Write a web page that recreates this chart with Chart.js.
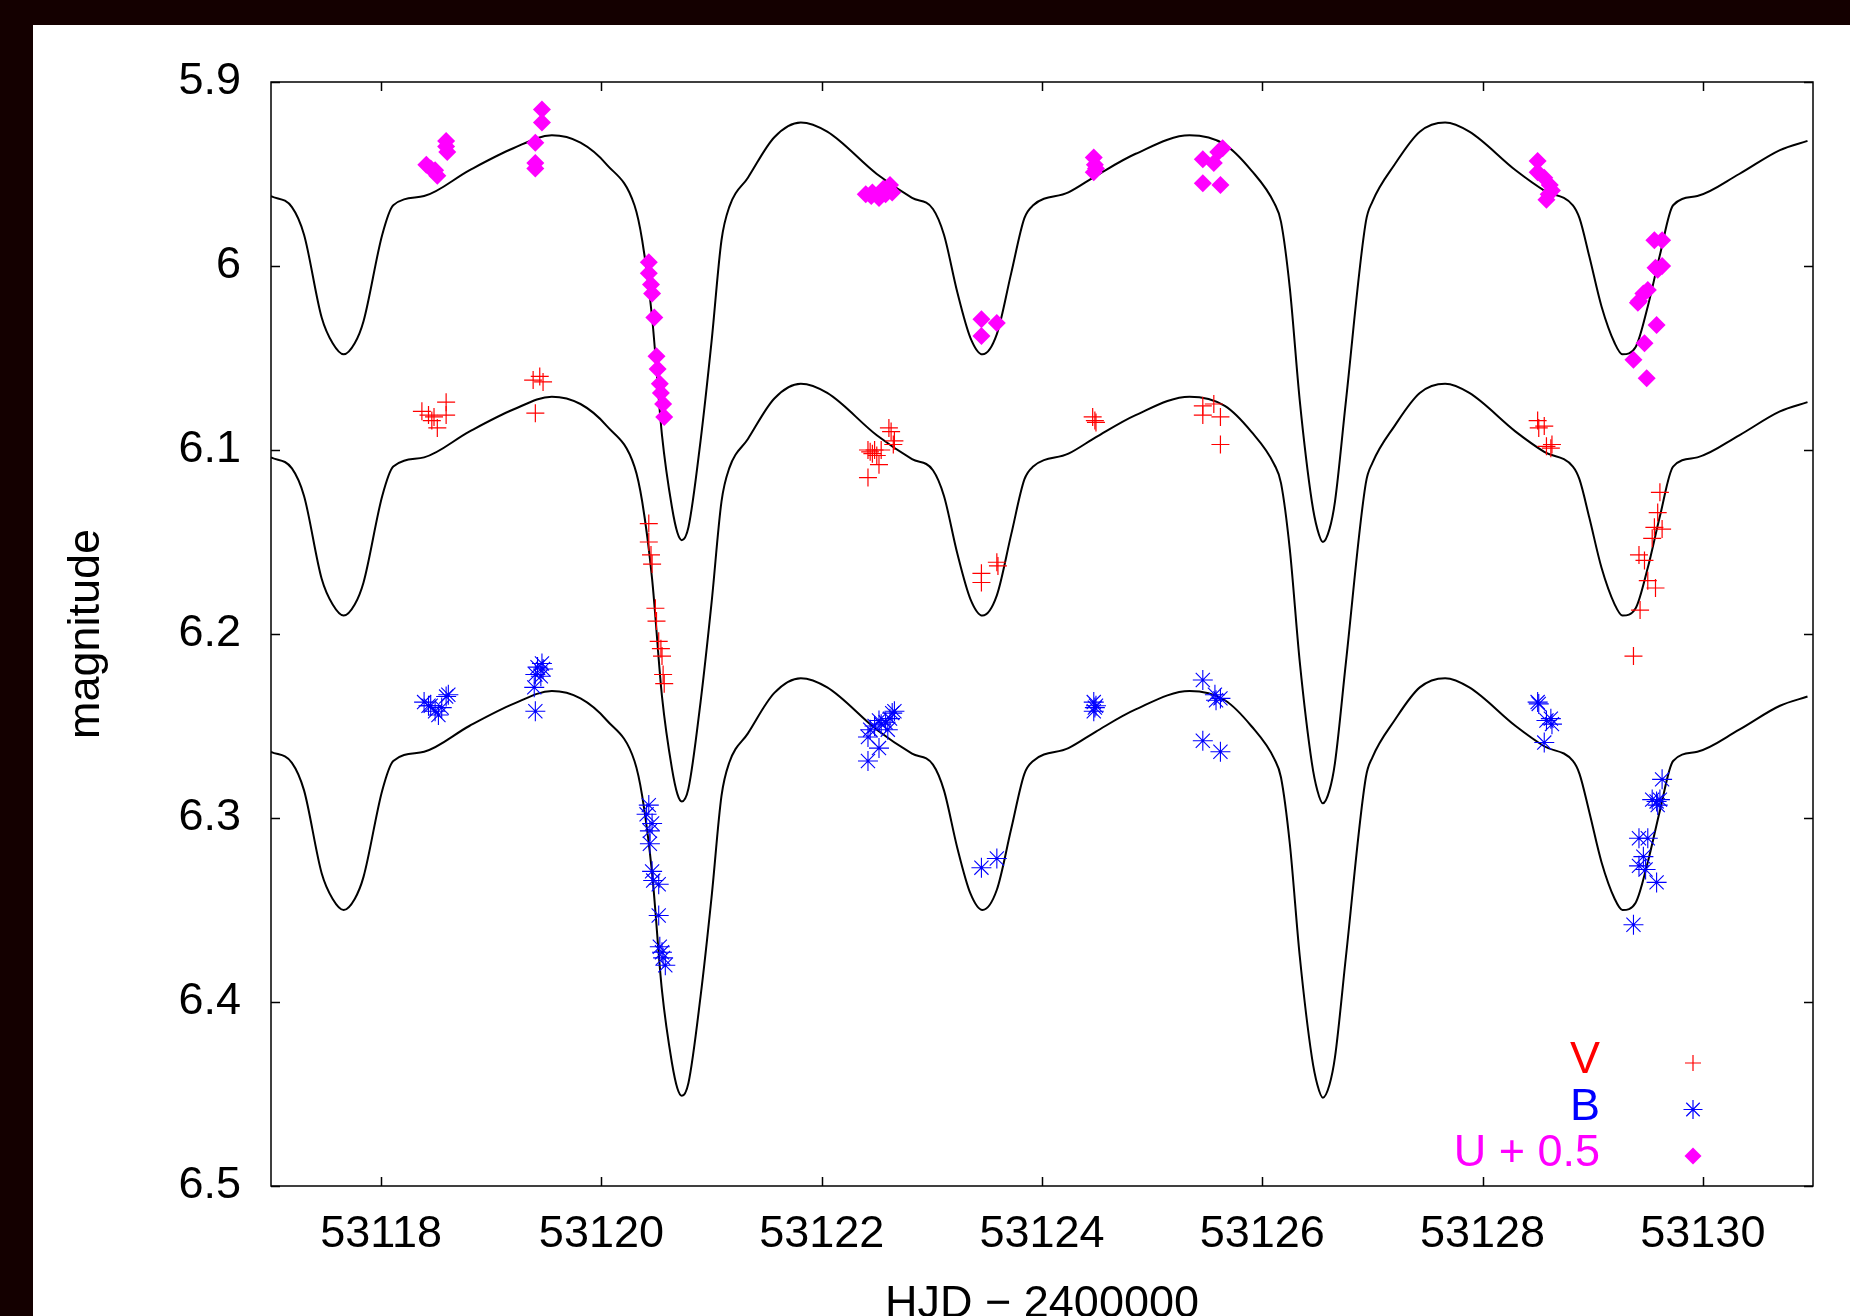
<!DOCTYPE html>
<html lang="en">
<head>
<meta charset="utf-8">
<title>Curva de luz UBV</title>
<script src="https://cdn.jsdelivr.net/npm/chart.js@4.4.1/dist/chart.umd.min.js"></script>
<style>
    html, body { margin: 0; padding: 0; background: #140000; overflow: hidden; }
    #panel { position: absolute; left: 33px; top: 25px; width: 1817px; height: 1291px; background: #fff; }
    canvas { display: block; }
</style>
</head>
<body>
<div id="panel"><canvas id="grafico" width="1817" height="1291"></canvas></div>
<script>
// --- 1. DATOS ---

// Curva modelo, misma malla HJD para las tres bandas
const hjdModelo = [
    53117.00, 53117.19, 53117.30, 53117.46, 53117.56, 53117.66, 53117.76, 53117.84, 53118.01, 53118.11,
    53118.39, 53118.80, 53119.20, 53119.55, 53119.81, 53120.05, 53120.30, 53120.37, 53120.46, 53120.55,
    53120.64, 53120.69, 53120.73, 53120.79, 53120.90, 53121.00, 53121.09, 53121.16, 53121.33, 53121.57,
    53121.81, 53122.05, 53122.50, 53122.82, 53123.01, 53123.11, 53123.23, 53123.35, 53123.46, 53123.59,
    53123.72, 53123.84, 53123.92, 53124.24, 53124.49, 53124.85, 53125.34, 53125.66, 53125.90, 53126.11,
    53126.17, 53126.25, 53126.34, 53126.45, 53126.50, 53126.55, 53126.61, 53126.66, 53126.76, 53126.94,
    53127.00, 53127.20, 53127.43, 53127.66, 53127.88, 53128.30, 53128.56, 53128.82, 53128.88, 53128.97,
    53129.08, 53129.20, 53129.27, 53129.39, 53129.50, 53129.61, 53129.73, 53129.95, 53130.33, 53130.70,
    53130.95
];
const modeloU = [
    5.962, 5.968, 5.983, 6.028, 6.042, 6.048, 6.042, 6.030, 5.983, 5.967,
    5.962, 5.948, 5.936, 5.929, 5.933, 5.945, 5.967, 5.986, 6.028, 6.092,
    6.131, 6.145, 6.149, 6.142, 6.095, 6.041, 5.986, 5.968, 5.952, 5.930,
    5.922, 5.927, 5.950, 5.963, 5.969, 5.983, 6.014, 6.039, 6.048, 6.037,
    6.004, 5.974, 5.967, 5.960, 5.951, 5.939, 5.929, 5.934, 5.948, 5.966,
    5.976, 6.012, 6.073, 6.128, 6.143, 6.150, 6.143, 6.128, 6.073, 5.976,
    5.965, 5.945, 5.927, 5.922, 5.927, 5.948, 5.959, 5.967, 5.974, 5.995,
    6.022, 6.042, 6.048, 6.044, 6.022, 5.994, 5.967, 5.962, 5.950, 5.937,
    5.932
];
const modeloV = [
    6.104, 6.110, 6.125, 6.170, 6.184, 6.190, 6.184, 6.172, 6.125, 6.109,
    6.104, 6.090, 6.078, 6.071, 6.075, 6.087, 6.109, 6.128, 6.170, 6.234,
    6.273, 6.287, 6.291, 6.284, 6.237, 6.183, 6.128, 6.110, 6.094, 6.072,
    6.064, 6.069, 6.092, 6.105, 6.111, 6.125, 6.156, 6.181, 6.190, 6.179,
    6.146, 6.116, 6.109, 6.102, 6.093, 6.081, 6.071, 6.076, 6.090, 6.108,
    6.118, 6.154, 6.215, 6.270, 6.285, 6.292, 6.285, 6.270, 6.215, 6.118,
    6.107, 6.087, 6.069, 6.064, 6.069, 6.090, 6.101, 6.109, 6.116, 6.137,
    6.164, 6.184, 6.190, 6.186, 6.164, 6.136, 6.109, 6.104, 6.092, 6.079,
    6.074
];
const modeloB = [
    6.264, 6.270, 6.285, 6.330, 6.344, 6.350, 6.344, 6.332, 6.285, 6.269,
    6.264, 6.250, 6.238, 6.231, 6.235, 6.247, 6.269, 6.288, 6.330, 6.394,
    6.433, 6.447, 6.451, 6.444, 6.397, 6.343, 6.288, 6.270, 6.254, 6.232,
    6.224, 6.229, 6.252, 6.265, 6.271, 6.285, 6.316, 6.341, 6.350, 6.339,
    6.306, 6.276, 6.269, 6.262, 6.253, 6.241, 6.231, 6.236, 6.250, 6.268,
    6.278, 6.314, 6.375, 6.430, 6.445, 6.452, 6.445, 6.430, 6.375, 6.278,
    6.267, 6.247, 6.229, 6.224, 6.229, 6.250, 6.261, 6.269, 6.276, 6.297,
    6.324, 6.344, 6.350, 6.346, 6.324, 6.296, 6.269, 6.264, 6.252, 6.239,
    6.234
];

// Observaciones U + 0.5 (rombos)
const hjdU = [
    53118.41, 53118.45, 53118.49, 53118.51, 53118.59, 53118.59, 53118.60,
    53119.46, 53119.46, 53119.40, 53119.40, 53119.40,
    53120.43, 53120.43, 53120.45, 53120.46, 53120.48, 53120.50, 53120.51, 53120.53, 53120.54, 53120.56, 53120.57,
    53122.40, 53122.45, 53122.46, 53122.52, 53122.56, 53122.58, 53122.62, 53122.64,
    53123.45, 53123.59, 53123.45,
    53124.47, 53124.48, 53124.49, 53124.47,
    53125.46, 53125.56, 53125.60, 53125.64, 53125.46, 53125.62,
    53128.50, 53128.50, 53128.56, 53128.61, 53128.63, 53128.58, 53128.60,
    53129.56, 53129.63, 53129.57, 53129.63, 53129.59, 53129.50, 53129.46, 53129.42, 53129.41, 53129.58, 53129.47, 53129.37, 53129.49
];
const magU = [
    5.945, 5.947, 5.948, 5.951, 5.932, 5.935, 5.938,
    5.915, 5.922, 5.933, 5.944, 5.947,
    5.998, 6.004, 6.010, 6.015, 6.028, 6.049, 6.056, 6.064, 6.069, 6.075, 6.082,
    5.961, 5.962, 5.960, 5.963, 5.958, 5.961, 5.956, 5.960,
    6.029, 6.031, 6.038,
    5.941, 5.945, 5.947, 5.949,
    5.942, 5.944, 5.938, 5.936, 5.955, 5.956,
    5.943, 5.949, 5.952, 5.956, 5.959, 5.964, 5.961,
    5.986, 5.986, 6.001, 6.000, 6.002, 6.013, 6.015, 6.019, 6.020, 6.032, 6.042, 6.051, 6.061
];

// Observaciones V (cruces)
const hjdV = [
    53118.37, 53118.43, 53118.46, 53118.48, 53118.51, 53118.59, 53118.59,
    53119.38, 53119.44, 53119.47, 53119.40,
    53120.43, 53120.43, 53120.45, 53120.46, 53120.49, 53120.50, 53120.52, 53120.54, 53120.55, 53120.56, 53120.57,
    53122.42, 53122.44, 53122.46, 53122.48, 53122.50, 53122.52, 53122.54, 53122.61, 53122.63, 53122.66, 53122.65, 53122.42,
    53123.45, 53123.45, 53123.59, 53123.60,
    53124.46, 53124.48, 53124.49,
    53125.46, 53125.46, 53125.56, 53125.62, 53125.62,
    53128.50, 53128.51, 53128.56, 53128.58, 53128.62, 53128.63,
    53129.61, 53129.59, 53129.56, 53129.63, 53129.54, 53129.42, 53129.47, 53129.50, 53129.57, 53129.43, 53129.37
];
const magV = [
    6.079, 6.081, 6.084, 6.082, 6.088, 6.081, 6.074,
    6.062, 6.060, 6.063, 6.080,
    6.140, 6.150, 6.157, 6.162, 6.186, 6.193, 6.204, 6.208, 6.212, 6.222, 6.227,
    6.100, 6.101, 6.102, 6.100, 6.103, 6.108, 6.100, 6.088, 6.090, 6.095, 6.097, 6.115,
    6.167, 6.172, 6.161, 6.163,
    6.082, 6.084, 6.085,
    6.076, 6.081, 6.075, 6.082, 6.097,
    6.084, 6.088, 6.087, 6.098, 6.099, 6.097,
    6.123, 6.134, 6.142, 6.143, 6.148, 6.157, 6.160, 6.171, 6.175, 6.187, 6.212
];

// Observaciones B (asteriscos)
const hjdB = [
    53118.39, 53118.43, 53118.45, 53118.49, 53118.52, 53118.55, 53118.59, 53118.61,
    53119.40, 53119.42, 53119.46, 53119.45, 53119.39, 53119.40, 53119.47,
    53120.43, 53120.41, 53120.46, 53120.44, 53120.44, 53120.46, 53120.47, 53120.52, 53120.52, 53120.53, 53120.55, 53120.56, 53120.58,
    53122.42, 53122.42, 53122.44, 53122.48, 53122.52, 53122.54, 53122.58, 53122.62, 53122.64, 53122.66, 53122.52, 53122.60,
    53123.45, 53123.59,
    53124.47, 53124.48, 53124.47, 53124.49,
    53125.46, 53125.57, 53125.62, 53125.46, 53125.62, 53125.58,
    53128.50, 53128.51, 53128.62, 53128.63, 53128.58, 53128.56,
    53129.63, 53129.54, 53129.58, 53129.61, 53129.59, 53129.42, 53129.50, 53129.46, 53129.42, 53129.48, 53129.58, 53129.37
];
const magB = [
    6.237, 6.239, 6.239, 6.242, 6.244, 6.240, 6.234, 6.233,
    6.222, 6.218, 6.216, 6.223, 6.229, 6.242, 6.219,
    6.293, 6.298, 6.303, 6.307, 6.314, 6.329, 6.334, 6.336, 6.353, 6.370, 6.373, 6.376, 6.380,
    6.269, 6.256, 6.252, 6.250, 6.247, 6.249, 6.248, 6.246, 6.243, 6.242, 6.262, 6.252,
    6.327, 6.322,
    6.237, 6.240, 6.242, 6.239,
    6.225, 6.233, 6.235, 6.258, 6.264, 6.236,
    6.237, 6.238, 6.246, 6.249, 6.247, 6.259,
    6.279, 6.290, 6.291, 6.290, 6.293, 6.311, 6.311, 6.321, 6.326, 6.328, 6.335, 6.358
];

// Ejes y leyenda
const xTicks = [53118, 53120, 53122, 53124, 53126, 53128, 53130];
const yTicks = [5.9, 6.0, 6.1, 6.2, 6.3, 6.4, 6.5];
const yTickLabels = ['5.9', '6', '6.1', '6.2', '6.3', '6.4', '6.5'];
const leyendaTextos = ['V', 'B', 'U + 0.5'];

// --- 2. CONFIGURACION ---

const FUENTE = '"Liberation Sans", Arial, sans-serif';
const aPuntos = (xs, ys) => xs.map((x, i) => ({ x, y: ys[i] }));

// Marco cerrado con ticks hacia adentro (estilo gnuplot)
const marco = {
    id: 'marco',
    afterDraw(chart) {
        const { ctx, chartArea: a, scales: { x, y } } = chart;
        ctx.save();
        ctx.strokeStyle = '#000';
        ctx.lineWidth = 1.5;
        ctx.strokeRect(a.left, a.top, a.right - a.left, a.bottom - a.top);
        ctx.beginPath();
        x.ticks.forEach(t => {
            const px = Math.round(x.getPixelForValue(t.value)) + 0.5;
            ctx.moveTo(px, a.bottom); ctx.lineTo(px, a.bottom - 9);
            ctx.moveTo(px, a.top); ctx.lineTo(px, a.top + 9);
        });
        y.ticks.forEach(t => {
            const py = Math.round(y.getPixelForValue(t.value)) + 0.5;
            ctx.moveTo(a.left, py); ctx.lineTo(a.left + 9, py);
            ctx.moveTo(a.right, py); ctx.lineTo(a.right - 9, py);
        });
        ctx.stroke();
        ctx.restore();
    }
};

// Leyenda abajo a la derecha: texto alineado a la derecha + simbolo
const leyenda = {
    id: 'leyenda',
    afterDraw(chart) {
        const { ctx, chartArea: a } = chart;
        const filas = [
            { texto: leyendaTextos[0], color: '#ff0000', estilo: 'cross', radio: 8, borde: 1.2 },
            { texto: leyendaTextos[1], color: '#0000ff', estilo: 'star', radio: 9.5, borde: 1.2 },
            { texto: leyendaTextos[2], color: '#ff00ff', estilo: 'rectRot', radio: 8.5, borde: 0 }
        ];
        ctx.save();
        ctx.font = `45px ${FUENTE}`;
        ctx.textAlign = 'right';
        ctx.textBaseline = 'middle';
        filas.forEach((f, i) => {
            const yy = a.bottom - 125 + i * 46.5;
            ctx.fillStyle = f.color;
            ctx.fillText(f.texto, a.right - 213, yy);
            ctx.strokeStyle = f.color;
            ctx.lineWidth = f.borde || 1;
            Chart.helpers.drawPoint(ctx, { pointStyle: f.estilo, radius: f.radio, borderWidth: f.borde, rotation: 0 }, a.right - 120, yy + 2);
        });
        ctx.restore();
    }
};

const lineaModelo = (data) => ({
    data,
    showLine: true,
    pointRadius: 0,
    borderColor: '#000',
    borderWidth: 2,
    cubicInterpolationMode: 'monotone',
    fill: false,
    order: 2
});

new Chart(document.getElementById('grafico'), {
    type: 'scatter',
    data: {
        datasets: [
            {
                label: 'U + 0.5', data: aPuntos(hjdU, magU), pointStyle: 'rectRot', pointRadius: 9,
                backgroundColor: '#ff00ff', borderColor: '#ff00ff', borderWidth: 0, order: 1
            },
            {
                label: 'V', data: aPuntos(hjdV, magV), pointStyle: 'cross', pointRadius: 9,
                borderColor: '#ff0000', backgroundColor: '#ff0000', borderWidth: 1.2, order: 1
            },
            {
                label: 'B', data: aPuntos(hjdB, magB), pointStyle: 'star', pointRadius: 10,
                borderColor: '#0000ff', backgroundColor: '#0000ff', borderWidth: 1.1, order: 1
            },
            lineaModelo(aPuntos(hjdModelo, modeloU)),
            lineaModelo(aPuntos(hjdModelo, modeloV)),
            lineaModelo(aPuntos(hjdModelo, modeloB))
        ]
    },
    options: {
        responsive: false,
        animation: false,
        devicePixelRatio: 1,
        layout: { padding: { left: 0, top: 56, right: 37, bottom: 0 } },
        plugins: { legend: { display: false }, tooltip: { enabled: false } },
        scales: {
            x: {
                type: 'linear',
                position: 'bottom',
                min: 53117,
                max: 53131,
                afterBuildTicks: s => { s.ticks = xTicks.map(v => ({ value: v })); },
                afterFit: s => { s.height = 130; },
                grid: { display: false, drawTicks: false },
                border: { display: false },
                ticks: {
                    color: '#000', padding: 22, autoSkip: false, maxRotation: 0,
                    font: { family: FUENTE, size: 45 },
                    callback: v => String(v)
                },
                title: {
                    display: true, text: 'HJD \u2212 2400000', color: '#000', padding: 0,
                    font: { family: FUENTE, size: 45, lineHeight: 0.5 }
                }
            },
            y: {
                type: 'linear',
                position: 'left',
                min: 5.9,
                max: 6.5,
                reverse: true,
                afterBuildTicks: s => { s.ticks = yTicks.map(v => ({ value: v })); },
                afterFit: s => { s.width = 238; },
                grid: { display: false, drawTicks: false },
                border: { display: false },
                ticks: {
                    color: '#000', padding: 30, autoSkip: false,
                    font: { family: FUENTE, size: 45 },
                    callback: (v, i) => yTickLabels[i]
                },
                title: {
                    display: true, text: 'magnitude', color: '#000', padding: { top: 27, bottom: 0 },
                    font: { family: FUENTE, size: 45 }
                }
            }
        }
    },
    plugins: [marco, leyenda]
});
</script>
</body>
</html>
